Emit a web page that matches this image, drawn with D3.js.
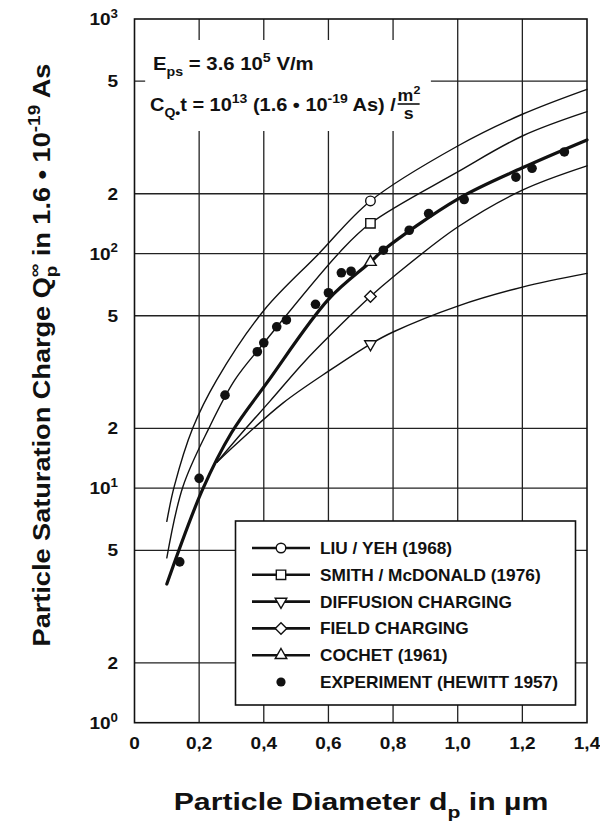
<!DOCTYPE html>
<html><head><meta charset="utf-8">
<script src="https://cdn.jsdelivr.net/npm/d3@7"></script>
<style>
html,body{margin:0;padding:0;background:#fff;}
svg{display:block;font-family:"Liberation Sans",Arial,Helvetica,sans-serif;font-weight:bold;}
</style></head><body>
<svg id="chart" width="600" height="827"></svg>
<script>
// ---------- data ----------
const xTicks = [0, 0.2, 0.4, 0.6, 0.8, 1.0, 1.2, 1.4];
const xTickLabels = ["0", "0,2", "0,4", "0,6", "0,8", "1,0", "1,2", "1,4"];
const yTicks = [1, 2, 5, 10, 20, 50, 100, 200, 500, 1000];
const yTickLabels = ["10^0", "2", "5", "10^1", "2", "5", "10^2", "2", "5", "10^3"];

const seriesNames = ["LIU / YEH (1968)", "SMITH / McDONALD (1976)", "DIFFUSION CHARGING", "FIELD CHARGING", "COCHET (1961)"];
const expName = "EXPERIMENT (HEWITT 1957)";

const liuX = [0.10, 0.123, 0.18, 0.254, 0.40, 0.568, 0.73, 1.0, 1.2, 1.4];
const liuY = [6.9, 10.2, 20, 29.6, 53, 99, 184, 295, 382, 468];

const smithX = [0.10, 0.15, 0.23, 0.31, 0.40, 0.636, 0.73, 1.0, 1.2, 1.4];
const smithY = [4.7, 10.2, 20, 29.6, 40, 102, 142, 239, 320, 390];

const diffX = [0.255, 0.326, 0.46, 0.605, 0.73, 0.80, 1.0, 1.2, 1.4];
const diffY = [13.5, 17.3, 24.6, 32.1, 39.7, 43.8, 55.7, 68.8, 80.2];

const fieldX = [0.255, 0.34, 0.42, 0.53, 0.667, 0.73, 0.80, 1.0, 1.2, 1.4];
const fieldY = [13.5, 19.6, 25, 34.8, 50, 62, 77, 136, 206, 251];

const cochetX = [0.10, 0.21, 0.30, 0.41, 0.60, 0.73, 0.77, 1.0, 1.2, 1.4];
const cochetY = [3.8, 9.8, 19, 29, 60, 91, 104, 188, 247, 310];

const expX = [0.14, 0.20, 0.28, 0.38, 0.40, 0.44, 0.47, 0.56, 0.60, 0.64, 0.67, 0.77, 0.85, 0.91, 1.02, 1.18, 1.23, 1.33];
const expY = [4.55, 11.2, 26.2, 37.3, 40.1, 45.7, 48.3, 56.8, 64.6, 80.7, 82.1, 104, 131, 159, 187, 229, 246, 281];

const markerX = 0.73;   // curve markers sit at this diameter

// ---------- layout ----------
const plot = {left: 134.5, right: 587, top: 19, bottom: 722.7};
const ink = "#111";

const svg = d3.select("#chart");
svg.append("rect").attr("width", 600).attr("height", 827).attr("fill", "#fff");

const x = d3.scaleLinear().domain([0, 1.4]).range([plot.left, plot.right]);
const decade = d3.scaleLinear().domain([0, 3]).range([plot.bottom, plot.top]);
// the printed grid places the 2 and 5 lines slightly off the true log positions
const warp = d3.scaleLinear().domain([0, Math.log10(2), Math.log10(5), 1]).range([0, 0.255, 0.735, 1]);
function y(v) {
  const l = Math.log10(v);
  let d = Math.floor(l + 1e-9);
  if (d >= 3) d = 2;
  return decade(d + warp(l - d));
}

function richText(parent, parts, size, anchor) {
  const t = parent.append("text").attr("font-size", size).attr("text-anchor", anchor || "start").attr("fill", ink);
  let shift = 0;
  parts.forEach(p => {
    const s = p[0], k = p[1];
    const target = k === "sup" ? -0.42 * size : k === "sub" ? 0.32 * size : 0;
    const ts = t.append("tspan").attr("dy", (target - shift).toFixed(2)).attr("font-size", k === "n" ? size : size * 0.7).text(s);
    if (p[2] !== undefined) ts.attr("dx", p[2]);
    shift = target;
  });
  return t;
}
function parseLabel(s) {
  const i = s.indexOf("^");
  return i < 0 ? [[s, "n"]] : [[s.slice(0, i), "n"], [s.slice(i + 1), "sup"]];
}

// ---------- grid ----------
const grid = svg.append("g").attr("stroke", "#222").attr("stroke-width", 1.3);
grid.selectAll("line.v").data(xTicks.slice(1, -1)).join("line")
  .attr("x1", d => x(d)).attr("x2", d => x(d)).attr("y1", plot.top).attr("y2", plot.bottom);
grid.selectAll("line.h").data(yTicks.slice(1, -1)).join("line")
  .attr("x1", plot.left).attr("x2", plot.right).attr("y1", d => y(d)).attr("y2", d => y(d));

// white panel behind the annotation (hides grid there)
svg.append("rect").attr("x", x(0.033)).attr("y", 40).attr("width", x(0.917) - x(0.033)).attr("height", 91).attr("fill", "#fff");

// ---------- annotation ----------
const SXA = 1.11;
const ann = svg.append("g");
richText(ann, [["E", "n"], ["ps", "sub"], [" = 3.6 10", "n"], ["5", "sup"], [" V/m", "n"]], 18)
  .attr("transform", `translate(153,70) scale(1.13,1)`);
const l2 = richText(ann, [["C", "n"], ["Q", "sub"], ["\u2022", "sub"], ["t = 10", "n"], ["13", "sup"], [" (1.6 \u2022 10", "n"], ["-19", "sup"], [" As) / ", "n"]], 18);
l2.attr("transform", `translate(150,111) scale(${SXA},1)`);
const bb = l2.node().getBBox();
const fx = 150 + (bb.x + bb.width) * SXA + 1;
const frac = ann.append("g").attr("transform", `translate(${fx},0)`);
richText(frac, [["m", "n"], ["2", "sup"]], 16).attr("transform", `translate(0,101) scale(${SXA},1)`);
frac.append("line").attr("x1", 0).attr("x2", 22).attr("y1", 104).attr("y2", 104).attr("stroke", ink).attr("stroke-width", 1.6);
richText(frac, [["s", "n"]], 16, "middle").attr("transform", `translate(11,119) scale(${SXA},1)`);

// ---------- curves ----------
const line = d3.line().x(d => x(d[0])).y(d => y(d[1])).curve(d3.curveCatmullRom.alpha(0.5));
const curves = [
  {name: seriesNames[0], xs: liuX, ys: liuY, sym: "circle", w: 1.4},
  {name: seriesNames[1], xs: smithX, ys: smithY, sym: "square", w: 1.4},
  {name: seriesNames[2], xs: diffX, ys: diffY, sym: "tridown", w: 1.4},
  {name: seriesNames[3], xs: fieldX, ys: fieldY, sym: "diamond", w: 1.4},
  {name: seriesNames[4], xs: cochetX, ys: cochetY, sym: "triup", w: 3.2}
];
const symPath = {
  circle: d3.symbol().type(d3.symbolCircle).size(72)(),
  square: d3.symbol().type(d3.symbolSquare).size(88)(),
  tridown: d3.symbol().type(d3.symbolTriangle).size(58)(),
  diamond: d3.symbol().type(d3.symbolSquare).size(66)(),
  triup: d3.symbol().type(d3.symbolTriangle).size(58)()
};
const symRot = {circle: 0, square: 0, tridown: 180, diamond: 45, triup: 0};

const cg = svg.append("g");
curves.forEach(c => {
  const pts = c.xs.map((v, i) => [v, c.ys[i]]);
  cg.append("path").attr("d", line(pts)).attr("fill", "none").attr("stroke", ink).attr("stroke-width", c.w).attr("stroke-linecap", "round");
});
curves.forEach(c => {
  const i = c.xs.indexOf(markerX);
  cg.append("path").attr("d", symPath[c.sym])
    .attr("transform", `translate(${x(c.xs[i])},${y(c.ys[i])}) rotate(${symRot[c.sym]})`)
    .attr("fill", "#fff").attr("stroke", ink).attr("stroke-width", 1.4);
});

// experiment points
svg.append("g").selectAll("circle").data(expX.map((v, i) => [v, expY[i]])).join("circle")
  .attr("cx", d => x(d[0])).attr("cy", d => y(d[1])).attr("r", 4.8).attr("fill", ink);

// ---------- legend ----------
const SXL = 1.08;
const lg = svg.append("g");
lg.append("rect").attr("x", 235.5).attr("y", 521).attr("width", 340).attr("height", 184)
  .attr("fill", "#fff").attr("stroke", ink).attr("stroke-width", 1.6);
const rowY = i => 548 + i * 26.8;
curves.forEach((c, i) => {
  const yy = rowY(i);
  lg.append("line").attr("x1", 252).attr("x2", 310).attr("y1", yy).attr("y2", yy).attr("stroke", ink).attr("stroke-width", 2.6);
  lg.append("path").attr("d", symPath[c.sym]).attr("transform", `translate(281,${yy}) rotate(${symRot[c.sym]})`)
    .attr("fill", "#fff").attr("stroke", ink).attr("stroke-width", 1.4);
  richText(lg, [[c.name, "n"]], 16).attr("transform", `translate(320,${yy + 6}) scale(${SXL},1)`);
});
lg.append("circle").attr("cx", 281).attr("cy", rowY(5)).attr("r", 4.6).attr("fill", ink);
richText(lg, [[expName, "n"]], 16).attr("transform", `translate(320,${rowY(5) + 6}) scale(${SXL},1)`);

// ---------- frame & axes ----------
svg.append("rect").attr("x", plot.left).attr("y", plot.top).attr("width", plot.right - plot.left).attr("height", plot.bottom - plot.top)
  .attr("fill", "none").attr("stroke", ink).attr("stroke-width", 1.6);

const SX = 1.12;
const xa = svg.append("g");
xTicks.forEach((v, i) => {
  richText(xa, [[xTickLabels[i], "n"]], 17, "middle").attr("transform", `translate(${x(v)},749) scale(${SX},1)`);
});
const ya = svg.append("g");
yTicks.forEach((v, i) => {
  richText(ya, parseLabel(yTickLabels[i]), 17, "end").attr("transform", `translate(118,${y(v) + 6}) scale(${SX},1)`);
});

// axis titles
richText(svg, [["Particle Diameter d", "n"], ["p", "sub"], [" in \u00b5m", "n"]], 24, "middle")
  .attr("transform", `translate(361,810) scale(1.26,1)`);
richText(svg, [["Particle Saturation Charge Q", "n"], ["p", "sub"], ["\u221e", "sup", -10], [" in 1.6 \u2022 10", "n"], ["-19", "sup"], [" As", "n"]], 23, "middle")
  .attr("transform", `translate(50,355) rotate(-90) scale(1.18,1)`);
</script>
</body></html>
